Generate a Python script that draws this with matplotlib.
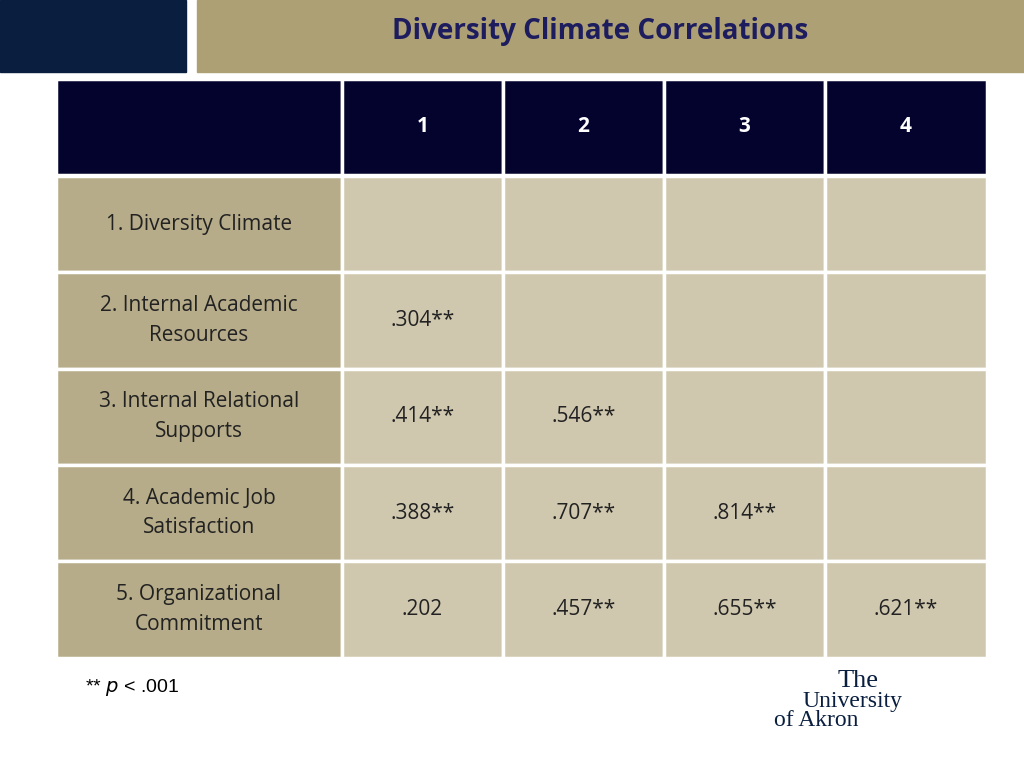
import matplotlib
matplotlib.use("Agg")
import matplotlib.pyplot as plt
from matplotlib.patches import Rectangle

title = "Diversity Climate Correlations"
col_labels = ["1", "2", "3", "4"]
row_labels = ["1. Diversity Climate", "2. Internal Academic\nResources",
              "3. Internal Relational\nSupports", "4. Academic Job\nSatisfaction",
              "5. Organizational\nCommitment"]
col1 = ["", ".304**", ".414**", ".388**", ".202"]
col2 = ["", "", ".546**", ".707**", ".457**"]
col3 = ["", "", "", ".814**", ".655**"]
col4 = ["", "", "", "", ".621**"]

fig = plt.figure(figsize=(10.24, 7.68), dpi=100)
ax = fig.add_axes([0, 0, 1, 1])
ax.set_xlim(0, 1024); ax.set_ylim(768, 0); ax.axis("off")

navy = "#03032E"; gold = "#ADA074"
ax.add_patch(Rectangle((0, 0), 186, 72, color="#0A1F3F"))
ax.add_patch(Rectangle((197, 0), 827, 72, color=gold))
ax.text(600, 31, title, ha="center", va="center", fontsize=20, fontweight="bold",
        color="#1C1C5E", family="Open Sans")

x_edges = [56, 342, 503, 664, 825, 987]
y_top = 79; hdr_h = 96; row_h = 96.3
cols = [col1, col2, col3, col4]
font = "Open Sans"
for c in range(5):
    x0, x1 = x_edges[c], x_edges[c + 1]
    ax.add_patch(Rectangle((x0, y_top), x1 - x0, hdr_h, facecolor=navy, edgecolor="white", lw=2.5))
    if c > 0:
        ax.text((x0 + x1) / 2, y_top + hdr_h / 2, col_labels[c - 1], ha="center", va="center",
                color="white", fontsize=15, fontweight="bold", family=font)
for r, lab in enumerate(row_labels):
    y0 = y_top + hdr_h + 1 + r * row_h
    for c in range(5):
        x0, x1 = x_edges[c], x_edges[c + 1]
        fc = "#B6AC89" if c == 0 else "#CFC7AE"
        ax.add_patch(Rectangle((x0, y0), x1 - x0, row_h, facecolor=fc, edgecolor="white", lw=2.5))
        txt = lab if c == 0 else cols[c - 1][r]
        ax.text((x0 + x1) / 2, y0 + row_h / 2, txt, ha="center", va="center", color="#222222",
                fontsize=15, family=font, linespacing=1.55)

ax.text(85, 687, r"** $\it{p}$ < .001", ha="left", va="center", fontsize=14, family="Liberation Sans")

logo_c = "#0A1F3F"
ax.text(858, 681, "The", ha="center", va="center", fontsize=19, family="Liberation Serif", color=logo_c)
ax.text(852, 701, "University", ha="center", va="center", fontsize=17, family="Liberation Serif", color=logo_c)
ax.text(816, 720, "of Akron", ha="center", va="center", fontsize=17, family="Liberation Serif", color=logo_c)

fig.savefig("out.png", dpi=100)
